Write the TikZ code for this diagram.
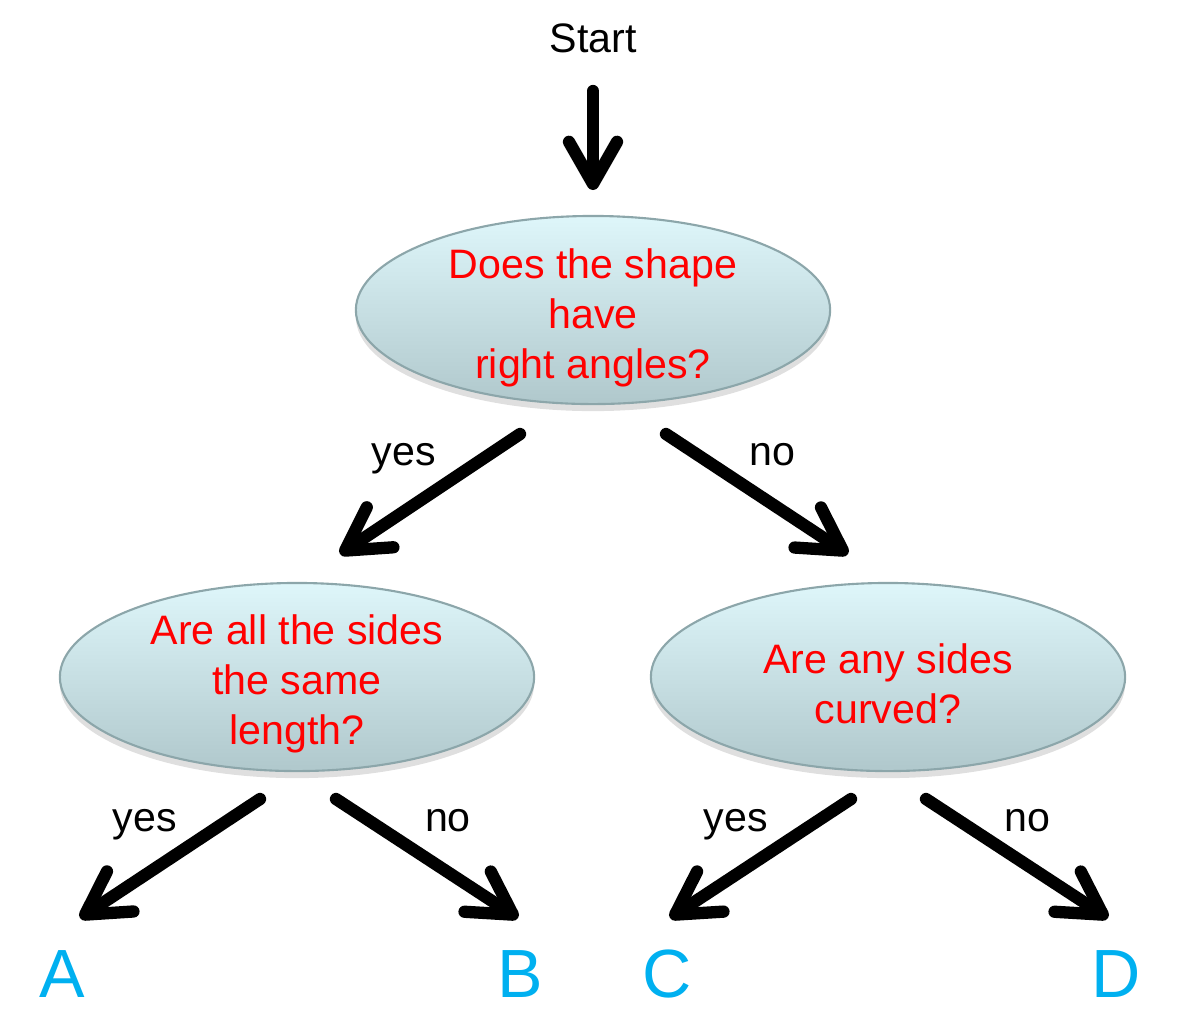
\documentclass[tikz,border=0pt]{standalone}
\usepackage{fontspec}
\setmainfont{Liberation Sans}
\usetikzlibrary{arrows.meta,shapes.geometric,shadows}
\definecolor{qred}{RGB}{255,0,0}
\definecolor{ansblue}{RGB}{0,176,240}
\definecolor{ovtop}{RGB}{222,246,250}
\definecolor{ovbot}{RGB}{176,200,204}
\definecolor{ovedge}{RGB}{140,166,170}
\tikzstyle{questBox} = [shape=ellipse, draw=ovedge, line width=0.6pt,
	top color=ovtop, bottom color=ovbot, minimum width=4.74cm,
	minimum height=1.88cm, inner sep=0pt,
	drop shadow={opacity=0.25, shadow xshift=0pt, shadow yshift=-2pt}]
\tikzstyle{questText} = [text=qred, align=center,
	font=\fontsize{11.7pt}{14.2pt}\selectfont]
\tikzstyle{plainText} = [text=black, font=\fontsize{11.7pt}{14.2pt}\selectfont]
\tikzstyle{answerText} = [text=ansblue, font=\fontsize{19.4pt}{22pt}\selectfont]
\tikzstyle{bigArrow} = [line width=3.5pt, line cap=round,
	-{Straight Barb[length=4.2mm, width=4.8mm, round]}]

\begin{document}
\begin{tikzpicture}[x=0.01cm, y=-0.01cm]
  \useasboundingbox (0,0) rectangle (1182,1023);
  % questions
  \node[plainText] (start) at (593,38) {Start};
  \node[questBox] (q1) at (593,310) {};
  \node[questText] (q1text) at (593,318) {Does the shape\\have\\right angles?};
  \node[questBox] (q2) at (297,677) {};
  \node[questText] (q2text) at (297,684) {Are all the sides\\the same\\length?};
  \node[questBox] (q3) at (888,677) {};
  \node[questText] (q3text) at (888,684) {Are any sides\\curved?};
  % answers
  \node[answerText] (ansA) at (62,974) {A};
  \node[answerText] (ansB) at (520,974) {B};
  \node[answerText] (ansC) at (667,974) {C};
  \node[answerText] (ansD) at (1116,974) {D};
  % arrow ends
  \coordinate (s0) at (593,91);   \coordinate (s1) at (593,190);
  \coordinate (y0) at (520,434);  \coordinate (y1) at (340,554);
  \coordinate (n0) at (666,434);  \coordinate (n1) at (848,554);
  \coordinate (a0) at (260,799);  \coordinate (a1) at (80,918);
  \coordinate (b0) at (336,799);  \coordinate (b1) at (518,918);
  \coordinate (c0) at (851,799);  \coordinate (c1) at (670,918);
  \coordinate (d0) at (926,799);  \coordinate (d1) at (1108,918);
  \draw[bigArrow] (s0) -- (s1);
  \draw[bigArrow] (y0) -- (y1);
  \draw[bigArrow] (n0) -- (n1);
  \draw[bigArrow] (a0) -- (a1);
  \draw[bigArrow] (b0) -- (b1);
  \draw[bigArrow] (c0) -- (c1);
  \draw[bigArrow] (d0) -- (d1);
  % labels
  \node[plainText] (yesTop) at (404,459) {yes};
  \node[plainText] (noTop) at (772,455) {no};
  \node[plainText] (yesA) at (145,825) {yes};
  \node[plainText] (noB) at (448,821) {no};
  \node[plainText] (yesC) at (736,825) {yes};
  \node[plainText] (noD) at (1027,821) {no};
\end{tikzpicture}
\end{document}
